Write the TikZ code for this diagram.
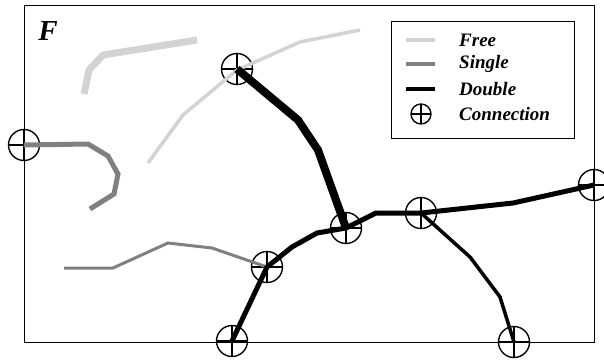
\documentclass[tikz,border=0pt]{standalone}
\usepackage{fontspec}
\setmainfont{Liberation Serif}
\definecolor{freec}{HTML}{D3D3D3}
\definecolor{singc}{HTML}{808080}
\begin{document}
\begin{tikzpicture}[x=1pt,y=-1pt,
  conn/.style={circle,draw,line width=1.4pt,minimum size=31pt,inner sep=0pt,
    path picture={\draw[line width=1.4pt] (path picture bounding box.west) -- (path picture bounding box.east)
      (path picture bounding box.north) -- (path picture bounding box.south);}},
  lconn/.style={conn,minimum size=20pt},
  freethick/.style={freec,line width=7pt},
  freethin/.style={freec,line width=3.5pt},
  singthick/.style={singc,line width=5pt},
  singthin/.style={singc,line width=3pt},
  dblthick/.style={black,line width=8pt},
  dblmed/.style={black,line width=5pt},
  dblthin/.style={black,line width=3.5pt},
  lbl/.style={font=\fontsize{19}{21}\selectfont\bfseries\itshape,anchor=west,inner sep=0pt}]
\useasboundingbox (0,0) rectangle (604,360);
\node[draw,line width=1.2pt,minimum width=570pt,minimum height=337pt,inner sep=0pt,anchor=north west] (frame) at (24,5) {};
\node[font=\fontsize{29}{30}\selectfont\bfseries\itshape,inner sep=0pt] (flbl) at (48,31) {F};
% connection nodes
\node[conn] (c1) at (24,145) {};
\node[conn] (c2) at (237,69) {};
\node[conn] (c3) at (267,267) {};
\node[conn] (c4) at (232,341) {};
\node[conn] (c5) at (346,228) {};
\node[conn] (c6) at (421,213) {};
\node[conn] (c7) at (594,185) {};
\node[conn] (c8) at (514,342) {};
% free
\coordinate (fa) at (84,94);
\coordinate (fb) at (360,30);
\coordinate (fc) at (148,163);
\coordinate (fd) at (197,40);
\draw[freethick] (fa) -- (89,70) -- (103,55) -- (fd);
\draw[freethin] (fc) -- (183,115) -- (237,70) -- (300,42) -- (fb);
% single
\coordinate (sa) at (90,209);
\coordinate (sb) at (64,268);
\draw[singthick] (c1.center) -- (88,144) -- (108,156) -- (118,174) -- (114,194) -- (sa);
\draw[singthin] (sb) -- (113,268) -- (168,243) -- (212,248) -- (c3.center);
% double
\draw[dblthick] (c2.center) -- (298,120) -- (318,150) -- (c5.center);
\draw[dblmed] (c4.center) -- (c3.center) -- (292,247) -- (317,233) -- (c5.center) -- (376,213) -- (c6.center) -- (513,203) -- (c7.center);
\draw[dblthin] (c6.center) -- (470,257) -- (500,297) -- (c8.center);
% legend
\node[draw,line width=1pt,minimum width=183pt,minimum height=117pt,inner sep=0pt,anchor=north west] (legend) at (391,21) {};
\coordinate (l1a) at (406,40); \coordinate (l1b) at (435,40);
\coordinate (l2a) at (406,64); \coordinate (l2b) at (435,64);
\coordinate (l3a) at (406,89); \coordinate (l3b) at (435,89);
\draw[freec,line width=3.5pt] (l1a) -- (l1b);
\draw[singc,line width=3.5pt] (l2a) -- (l2b);
\draw[black,line width=3.5pt] (l3a) -- (l3b);
\node[lconn] (l4) at (421,114) {};
\node[lbl] (t1) at (459,40) {Free};
\node[lbl] (t2) at (459,64) {Single};
\node[lbl] (t3) at (459,89) {Double};
\node[lbl] (t4) at (459,114) {Connection};
\end{tikzpicture}
\end{document}
